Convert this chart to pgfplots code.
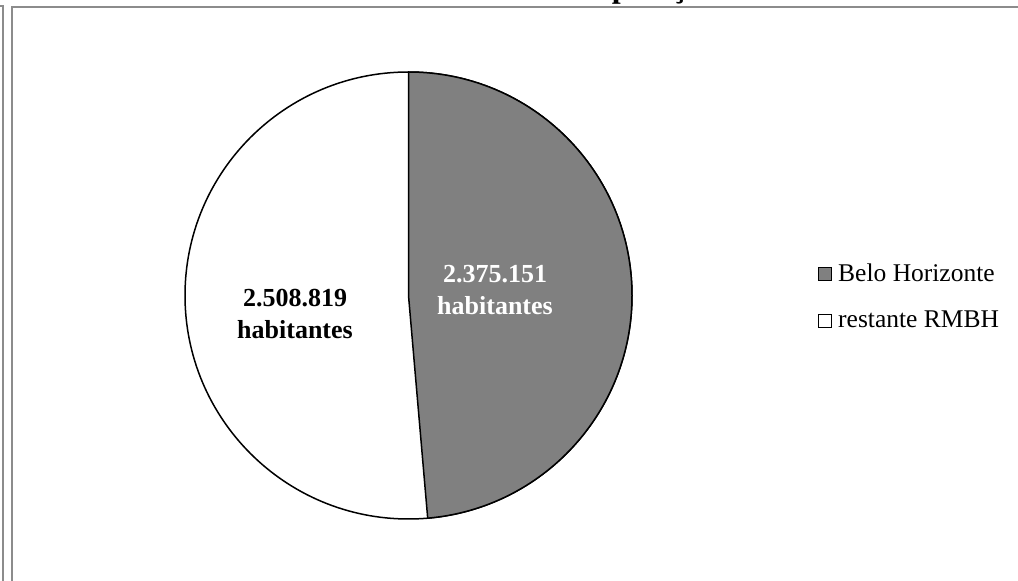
\documentclass[border=0pt]{standalone}
\usepackage{fontspec}
\setmainfont{Liberation Serif}
\usepackage{pgfplots}
\pgfplotsset{compat=1.18}
\definecolor{slicegray}{RGB}{128,128,128}
\definecolor{framegray}{RGB}{140,140,140}

% population (habitantes)
\def\popBH{2375.151}   % Belo Horizonte, thousands
\def\popRest{2508.819} % restante RMBH, thousands

\begin{document}
\begin{tikzpicture}
\path[use as bounding box] (0,0) rectangle (1018pt,581pt);
\begin{axis}[
    x=1pt, y=1pt,
    xmin=0, xmax=1018, ymin=0, ymax=581,
    scale only axis, hide axis, clip=false,
  ]
  \pgfmathsetmacro\shareBH{\popBH/(\popBH+\popRest)}
  \pgfmathsetmacro\endBH{90-360*\shareBH}

  % frames (cropped chart area)
  \draw[framegray, line width=2pt] (axis cs:0,575) -- (axis cs:2.5,575) -- (axis cs:2.5,0);
  \draw[framegray, line width=2pt] (axis cs:1018,574) -- (axis cs:12,574) -- (axis cs:12,0);

  % title, mostly cut off above the picture (as in the reference)
  \node[anchor=base west, inner sep=0pt, font=\fontsize{32}{36}\selectfont\bfseries]
    at (axis cs:576,583) {População};

  % pie
  \filldraw[fill=white, draw=black, line width=1.5pt]
    (axis cs:408.5,285.5) circle[radius=223.5pt];
  \filldraw[fill=slicegray, draw=black, line width=1.5pt]
    (axis cs:408.5,285.5) -- ++(90:223.5pt)
    arc[start angle=90, end angle=\endBH, radius=223.5pt] -- cycle;

  % data labels
  \node[anchor=base, inner sep=0pt, white, font=\fontsize{26}{30}\selectfont\bfseries]
    at (axis cs:495,298) {2.375.151};
  \node[anchor=base, inner sep=0pt, white, font=\fontsize{26}{30}\selectfont\bfseries]
    at (axis cs:495,266) {habitantes};
  \node[anchor=base, inner sep=0pt, font=\fontsize{26}{30}\selectfont\bfseries]
    at (axis cs:295,274) {2.508.819};
  \node[anchor=base, inner sep=0pt, font=\fontsize{26}{30}\selectfont\bfseries]
    at (axis cs:295,242) {habitantes};

  % legend
  \filldraw[fill=slicegray, draw=black, line width=1pt]
    (axis cs:818.5,300) rectangle (axis cs:831.5,313);
  \node[anchor=base west, inner sep=0pt, font=\fontsize{25.5}{30}\selectfont]
    at (axis cs:838,299) {Belo Horizonte};
  \filldraw[fill=white, draw=black, line width=1pt]
    (axis cs:818.5,253) rectangle (axis cs:831.5,266);
  \node[anchor=base west, inner sep=0pt, font=\fontsize{25.5}{30}\selectfont]
    at (axis cs:838,253) {restante RMBH};
\end{axis}
\end{tikzpicture}
\end{document}
